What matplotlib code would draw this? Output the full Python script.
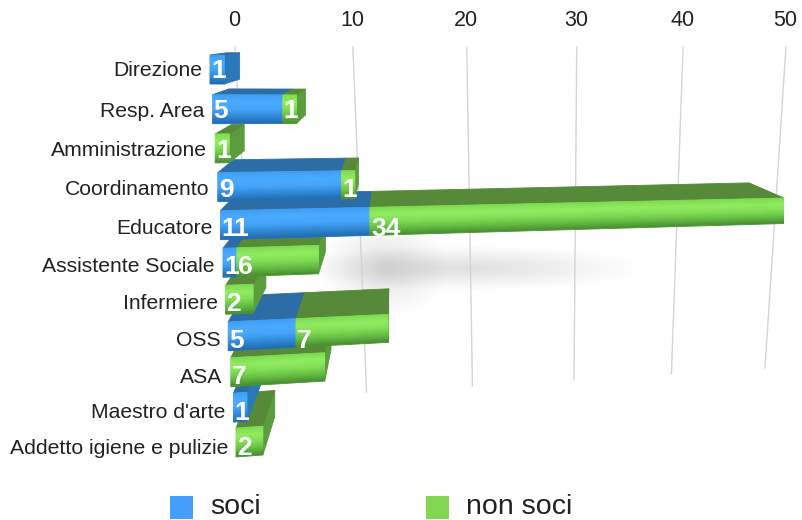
import numpy as np
import matplotlib
matplotlib.use("Agg")
import matplotlib.pyplot as plt
from matplotlib.patches import Ellipse, Rectangle

plt.rcParams['font.family'] = ['Liberation Sans', 'DejaVu Sans']

categories = ["Direzione", "Resp. Area", "Amministrazione", "Coordinamento", "Educatore",
              "Assistente Sociale", "Infermiere", "OSS", "ASA", "Maestro d'arte",
              "Addetto igiene e pulizie"]
soci = [1, 5, 0, 9, 11, 1, 0, 5, 0, 1, 0]
non_soci = [0, 1, 1, 1, 34, 6, 2, 7, 7, 0, 2]
ticks = [0, 10, 20, 30, 40, 50]

BAR_H = 29
DEPTH = 0.09
VP = (395, 30)

BLUE = {"front": ["#3f9ff5", "#4aaaff", "#45a5fa", "#318ad9", "#236fb5"], "top": "#2d6da6", "side": "#2a78ba"}
GREEN = {"front": ["#7fdc52", "#90ec60", "#82de55", "#66bf44", "#4c9432"], "top": "#568a38", "side": "#5b9c3d"}


def row_bottom(r):
    return 84 + 40 * r - 0.27 * r * r


def row_label_y(r):
    return 71 + 40.5 * r - 0.28 * r * r


def front_point(v, r, t):
    # value v on row r, t=0 bottom of the bar face, t=1 top
    x0 = 210 + 2.6 * r
    off = (14.3 - 0.08 * r) * v / (1 + 0.0026 * v)
    y0 = row_bottom(r) - t * BAR_H
    return x0 + off, y0 - (y0 - 105) * off / 4700


def back_point(p):
    return p[0] + DEPTH * (VP[0] - p[0]), p[1] + DEPTH * (VP[1] - p[1])


def hex_mix(stops, f):
    rgb = np.array([matplotlib.colors.to_rgb(c) for c in stops])
    pos = f * (len(stops) - 1)
    i = min(int(pos), len(stops) - 2)
    return tuple(rgb[i] + (rgb[i + 1] - rgb[i]) * (pos - i))


def quad(ax, pts, color):
    xs, ys = zip(*pts)
    ax.fill(xs, ys, color=color, lw=0.6, joinstyle="round")


def draw_segment(ax, r, v0, v1, pal, is_last):
    fl_t, fr_t = front_point(v0, r, 1), front_point(v1, r, 1)
    fr_b = front_point(v1, r, 0)
    if is_last:
        quad(ax, [fr_t, fr_b, back_point(fr_b), back_point(fr_t)], pal["side"])
    quad(ax, [fl_t, fr_t, back_point(fr_t), back_point(fl_t)], pal["top"])
    n = 14
    for k in range(n):
        t1, t2 = 1 - k / n, 1 - (k + 1) / n
        quad(ax, [front_point(v0, r, t1), front_point(v1, r, t1),
                  front_point(v1, r, t2), front_point(v0, r, t2)], hex_mix(pal["front"], k / (n - 1)))


def grid_top(v):
    return 235 + 12 * v / (1 + 0.00178 * v)


def grid_bottom(v):
    return 256 + 11.3 * v / (1 + 0.0022 * v)


fig = plt.figure(figsize=(8.03, 5.2), dpi=100)
ax = fig.add_axes([0, 0, 1, 1])
ax.set_xlim(0, 803)
ax.set_ylim(520, 0)
ax.axis("off")

# soft floor shadow, lots of faint ellipses so there is no banding
for f in np.linspace(1, 0.08, 30):
    ax.add_patch(Ellipse((470, 268), 340 * f, 44 * f, color="#808080", alpha=0.006, lw=0))
    ax.add_patch(Ellipse((385, 268), 130 * f, 95 * f, color="#808080", alpha=0.005, lw=0))

for v in ticks:
    ax.plot([grid_top(v), grid_bottom(v)], [47, 398 - 0.6 * v], color="#d4d4d4", lw=1, zorder=1)
    ax.text(grid_top(v) - 1, 21, str(v), ha="center", va="center", fontsize=15.5, color="#222222")

# lower rows first, the upper ones sit in front
for r in range(len(categories) - 1, -1, -1):
    s, n = soci[r], non_soci[r]
    if s:
        draw_segment(ax, r, 0, s, BLUE, n == 0)
    if n:
        draw_segment(ax, r, s, s + n, GREEN, True)

for r, name in enumerate(categories):
    s, n = soci[r], non_soci[r]
    ylab = row_label_y(r)
    ax.text(202 + 2.6 * r, ylab, name, ha="right", va="center", fontsize=15.2, color="#222222", zorder=5)
    if s:
        x, _ = front_point(0, r, 0)
        ax.text(x + 1, ylab, str(s), ha="left", va="center", fontsize=19, color="white",
                fontweight="bold", zorder=5)
    if n:
        x, _ = front_point(s, r, 0)
        ax.text(x + 1, ylab, str(n), ha="left", va="center", fontsize=19, color="white",
                fontweight="bold", zorder=5)

ax.add_patch(Rectangle((170, 496), 23, 23, color="#439ffa", lw=0))
ax.text(210, 514, "soci", ha="left", va="baseline", fontsize=20.5, color="#222222")
ax.add_patch(Rectangle((426, 496), 23, 23, color="#82d752", lw=0))
ax.text(466, 514, "non soci", ha="left", va="baseline", fontsize=20.5, color="#222222")

fig.savefig("out.png", dpi=100)
